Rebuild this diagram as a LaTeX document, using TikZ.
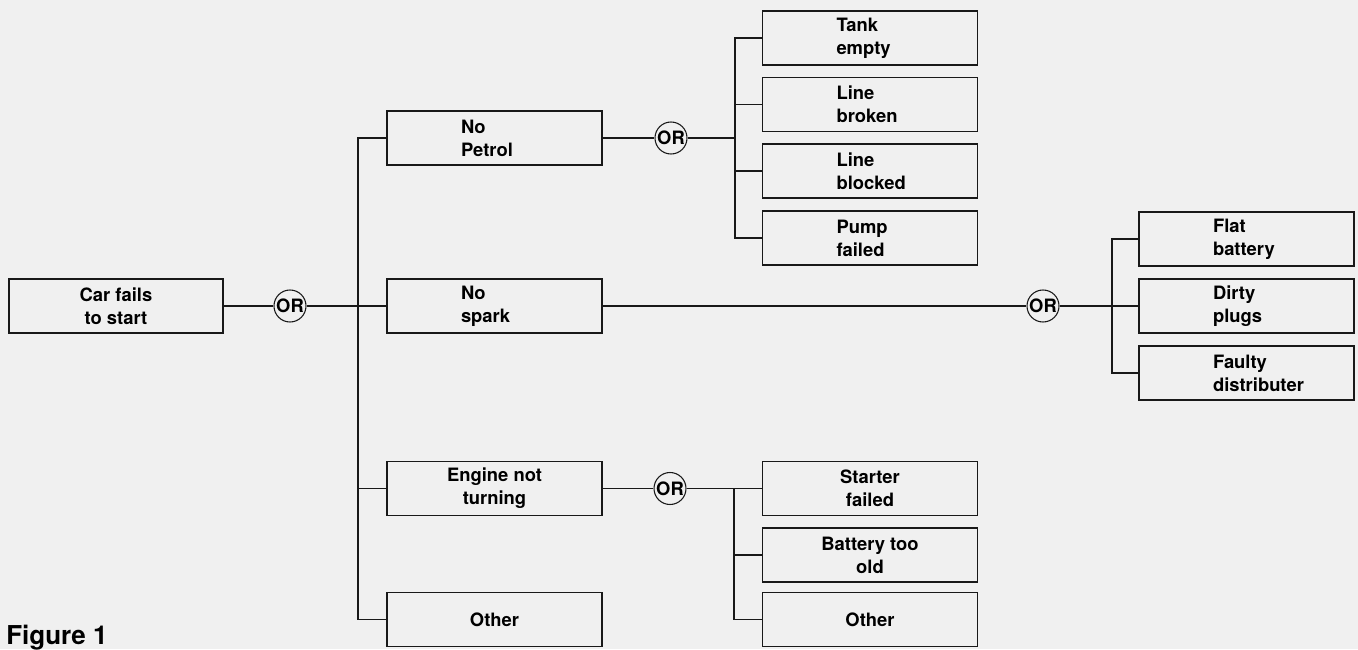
\documentclass[tikz,border=0pt]{standalone}
\usepackage{fontspec}
\setmainfont{TeX Gyre Heros}
\usepackage{tikz}
\tikzset{
  faultbox/.style={
    draw=black!90,
    line width=1.2pt,
    minimum width=161.25pt,
    minimum height=40.5pt,
    inner sep=2pt,
    align=center,
    font=\bfseries\fontsize{13.8}{17.2}\selectfont,
  },
  leftbox/.style={
    faultbox,
    text width=50.25pt,
    inner xsep=55.5pt,
    align=left,
  },
  orgate/.style={
    draw=black!90,
    circle,
    line width=0.8pt,
    minimum size=24pt,
    inner sep=0pt,
    font=\bfseries\fontsize{13.8}{17}\selectfont,
  },
  wire/.style={
    line width=1pt,
    draw=black!90,
  },
}
\begin{document}
\begin{tikzpicture}[x=0.75pt, y=-0.75pt]
  \fill[black!6] (0,0) rectangle (1358,649);
  \useasboundingbox (0,0) rectangle (1358,649);

  % --- Top event ---
  \node[faultbox, minimum width=160.5pt] (car) at (116,306) {Car fails\\to start};
  \node[orgate] (or1) at (290,306) {OR};
  \coordinate (j1) at (358,306);

  % --- Second level ---
  \node[leftbox]  (nopetrol) at (494.5,138)   {No\\Petrol};
  \node[leftbox]  (nospark)  at (494.5,306)   {No\\spark};
  \node[faultbox] (engine)   at (494.5,488.5) {Engine not\\turning};
  \node[faultbox] (other2)   at (494.5,619.5) {Other};

  \draw[wire] (car) -- (or1);
  \draw[wire] (or1) -- (nospark);
  \draw[wire] (j1) |- (nopetrol.west);
  \draw[wire] (j1) |- (engine.west);
  \draw[wire] (j1) |- (other2.west);

  % --- No petrol branch ---
  \node[orgate] (or2) at (671,138) {OR};
  \coordinate (j2) at (735,138);
  \node[leftbox] (tank)    at (870,38)    {Tank\\empty};
  \node[leftbox] (broken)  at (870,104.5) {Line\\broken};
  \node[leftbox] (blocked) at (870,171)   {Line\\blocked};
  \node[leftbox] (pump)    at (870,238)   {Pump\\failed};

  \draw[wire] (nopetrol) -- (or2);
  \draw[wire] (or2) -- (j2);
  \foreach \n in {tank,broken,blocked,pump}
    \draw[wire] (j2) |- (\n.west);

  % --- No spark branch ---
  \node[orgate] (or3) at (1043,306) {OR};
  \coordinate (j3) at (1112,306);
  \node[leftbox] (flat)   at (1246.5,239) {Flat\\battery};
  \node[leftbox] (dirty)  at (1246.5,306) {Dirty\\plugs};
  \node[leftbox] (faulty) at (1246.5,373) {Faulty\\distributer};

  \draw[wire] (nospark) -- (or3);
  \draw[wire] (or3) -- (dirty);
  \draw[wire] (j3) |- (flat.west);
  \draw[wire] (j3) |- (faulty.west);

  % --- Engine not turning branch ---
  \node[orgate] (or4) at (670,488.5) {OR};
  \coordinate (j4) at (734,488.5);
  \node[faultbox] (starter) at (870,488.5) {Starter\\failed};
  \node[faultbox] (battold) at (870,555)   {Battery too\\old};
  \node[faultbox] (other3)  at (870,619.5) {Other};

  \draw[wire] (engine) -- (or4);
  \draw[wire] (or4) -- (starter);
  \draw[wire] (j4) |- (battold.west);
  \draw[wire] (j4) |- (other3.west);

  \node[anchor=base west, inner sep=0pt, font=\bfseries\fontsize{19.5}{23}\selectfont] (figlabel) at (6,644) {Figure 1};
\end{tikzpicture}
\end{document}
